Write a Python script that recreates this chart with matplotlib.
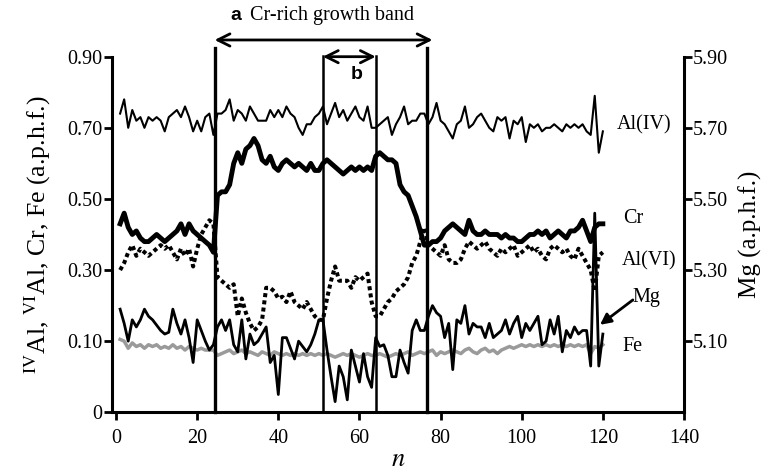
import matplotlib.pyplot as plt
import numpy as np

plt.rcParams['font.family'] = ['Liberation Serif', 'DejaVu Serif']
plt.rcParams['mathtext.fontset'] = 'stix'

# analysis number along the traverse
n = np.arange(1, 121)

al_iv = [0.74, 0.78, 0.70, 0.75, 0.72, 0.73, 0.70, 0.73, 0.72, 0.73,
         0.72, 0.69, 0.73, 0.74, 0.75, 0.73, 0.76, 0.73, 0.69, 0.72,
         0.69, 0.73, 0.74, 0.68, 0.74, 0.74, 0.75, 0.78, 0.72, 0.75,
         0.74, 0.72, 0.76, 0.74, 0.72, 0.72, 0.72, 0.75, 0.73, 0.75,
         0.73, 0.76, 0.74, 0.73, 0.70, 0.68, 0.71, 0.71, 0.73, 0.74,
         0.76, 0.71, 0.74, 0.77, 0.73, 0.75, 0.72, 0.74, 0.76, 0.73,
         0.72, 0.76, 0.70, 0.70, 0.71, 0.72, 0.73, 0.68, 0.71, 0.73,
         0.76, 0.71, 0.72, 0.72, 0.74, 0.74, 0.71, 0.73, 0.77, 0.72,
         0.71, 0.69, 0.67, 0.71, 0.72, 0.76, 0.70, 0.71, 0.73, 0.74,
         0.72, 0.70, 0.69, 0.73, 0.72, 0.73, 0.67, 0.72, 0.71, 0.73,
         0.66, 0.71, 0.70, 0.71, 0.69, 0.70, 0.70, 0.71, 0.70, 0.69,
         0.71, 0.70, 0.71, 0.70, 0.71, 0.69, 0.68, 0.79, 0.63, 0.69]

cr = [0.43, 0.46, 0.42, 0.40, 0.41, 0.39, 0.38, 0.38, 0.39, 0.40,
      0.39, 0.38, 0.39, 0.40, 0.41, 0.43, 0.40, 0.43, 0.41, 0.40,
      0.39, 0.38, 0.37, 0.35, 0.51, 0.52, 0.52, 0.54, 0.60, 0.63,
      0.60, 0.64, 0.65, 0.67, 0.65, 0.61, 0.60, 0.62, 0.59, 0.58,
      0.60, 0.61, 0.60, 0.59, 0.60, 0.59, 0.58, 0.60, 0.58, 0.58,
      0.60, 0.61, 0.60, 0.59, 0.58, 0.57, 0.58, 0.59, 0.58, 0.59,
      0.58, 0.59, 0.58, 0.62, 0.63, 0.62, 0.61, 0.61, 0.60, 0.54,
      0.52, 0.51, 0.48, 0.45, 0.41, 0.37, 0.37, 0.38, 0.38, 0.39,
      0.41, 0.42, 0.43, 0.42, 0.41, 0.40, 0.44, 0.41, 0.40, 0.40,
      0.41, 0.40, 0.40, 0.40, 0.39, 0.40, 0.39, 0.39, 0.38, 0.38,
      0.39, 0.40, 0.40, 0.41, 0.40, 0.41, 0.39, 0.40, 0.41, 0.40,
      0.39, 0.41, 0.41, 0.42, 0.44, 0.41, 0.38, 0.42, 0.43, 0.43]

al_vi = [0.30, 0.32, 0.35, 0.37, 0.34, 0.36, 0.35, 0.34, 0.35, 0.36,
         0.37, 0.36, 0.37, 0.35, 0.33, 0.36, 0.34, 0.36, 0.31, 0.36,
         0.40, 0.42, 0.44, 0.43, 0.28, 0.27, 0.26, 0.25, 0.26, 0.17,
         0.22, 0.18, 0.15, 0.13, 0.14, 0.16, 0.25, 0.25, 0.24, 0.22,
         0.225, 0.21, 0.24, 0.21, 0.20, 0.19, 0.21, 0.19, 0.17, 0.16,
         0.16, 0.22, 0.27, 0.31, 0.27, 0.27, 0.27, 0.25, 0.28, 0.27,
         0.28, 0.29, 0.21, 0.17, 0.17, 0.19, 0.21, 0.22, 0.24, 0.25,
         0.26, 0.28, 0.32, 0.34, 0.38, 0.42, 0.37, 0.36, 0.35, 0.34,
         0.37, 0.33, 0.32, 0.32, 0.33, 0.36, 0.38, 0.37, 0.36, 0.37,
         0.38, 0.36, 0.35, 0.34, 0.36, 0.35, 0.36, 0.37, 0.34, 0.35,
         0.36, 0.37, 0.35, 0.36, 0.34, 0.33, 0.36, 0.37, 0.36, 0.35,
         0.36, 0.34, 0.33, 0.36, 0.34, 0.32, 0.30, 0.24, 0.34, 0.35]

# Mg on the right axis
mg = [5.19, 5.15, 5.10, 5.16, 5.14, 5.16, 5.19, 5.17, 5.16, 5.145,
      5.13, 5.12, 5.125, 5.19, 5.15, 5.12, 5.16, 5.11, 5.04, 5.16,
      5.13, 5.10, 5.075, 5.09, 5.14, 5.16, 5.13, 5.16, 5.09, 5.07,
      5.16, 5.05, 5.12, 5.09, 5.10, 5.12, 5.14, 5.04, 5.06, 4.95,
      5.11, 5.11, 5.08, 5.05, 5.10, 5.085, 5.07, 5.09, 5.12, 5.16,
      5.16, 5.075, 5.00, 4.93, 5.03, 5.00, 4.935, 5.075, 5.03, 4.985,
      5.065, 5.00, 4.97, 5.11, 5.085, 5.09, 5.06, 5.00, 5.00, 5.075,
      5.04, 5.01, 5.13, 5.16, 5.13, 5.13, 5.17, 5.20, 5.18, 5.17,
      5.11, 5.15, 5.02, 5.16, 5.15, 5.20, 5.12, 5.15, 5.14, 5.14,
      5.11, 5.15, 5.11, 5.12, 5.13, 5.16, 5.12, 5.15, 5.17, 5.11,
      5.15, 5.13, 5.15, 5.17, 5.09, 5.10, 5.16, 5.12, 5.17, 5.07,
      5.13, 5.11, 5.14, 5.12, 5.13, 5.13, 5.03, 5.46, 5.03, 5.12]

fe = [0.105, 0.10, 0.08, 0.095, 0.085, 0.09, 0.08, 0.09, 0.085, 0.09,
      0.08, 0.085, 0.08, 0.09, 0.08, 0.085, 0.075, 0.085, 0.08, 0.075,
      0.08, 0.075, 0.075, 0.075, 0.06, 0.065, 0.07, 0.075, 0.065, 0.07,
      0.075, 0.065, 0.07, 0.065, 0.06, 0.07, 0.065, 0.06, 0.07, 0.065,
      0.06, 0.065, 0.06, 0.065, 0.06, 0.065, 0.06, 0.065, 0.06, 0.065,
      0.06, 0.065, 0.06, 0.055, 0.06, 0.065, 0.06, 0.065, 0.06, 0.055,
      0.06, 0.065, 0.06, 0.06, 0.065, 0.06, 0.055, 0.06, 0.065, 0.06,
      0.065, 0.07, 0.06, 0.065, 0.07, 0.065, 0.07, 0.075, 0.06, 0.07,
      0.065, 0.07, 0.075, 0.07, 0.065, 0.075, 0.08, 0.07, 0.065, 0.075,
      0.08, 0.07, 0.075, 0.065, 0.075, 0.08, 0.085, 0.08, 0.085, 0.09,
      0.085, 0.09, 0.085, 0.09, 0.085, 0.09, 0.085, 0.09, 0.085, 0.09,
      0.085, 0.09, 0.085, 0.09, 0.085, 0.09, 0.065, 0.085, 0.08, 0.09]

band_a = [24.3, 76.7]
band_b = [51, 64]

left_ticks = [-0.1, 0.1, 0.3, 0.5, 0.7, 0.9]
left_labels = ['0', '0.10', '0.30', '0.50', '0.70', '0.90']
right_ticks = [5.1, 5.3, 5.5, 5.7, 5.9]
right_labels = ['5.10', '5.30', '5.50', '5.70', '5.90']

fig = plt.figure(figsize=(7.65, 4.74), dpi=100)
ax = fig.add_axes([0.1464, 0.1302, 0.7477, 0.7502])
ax2 = ax.twinx()

ax.plot(n, fe, color='#9a9a9a', lw=2.5, zorder=2)
ax.plot(n, al_iv, color='k', lw=1.5, zorder=3)
ax.plot(n, al_vi, color='k', lw=2.9, ls=(0, (1, 0.8)), zorder=3)
ax.plot(n, cr, color='k', lw=3.5, zorder=4)
ax2.plot(n, mg, color='k', lw=2.0, zorder=3)

ax.set_xlim(-1, 140)
ax.set_ylim(-0.1, 0.9)
ax2.set_ylim(4.9, 5.9)

ax.set_xticks([0, 20, 40, 60, 80, 100, 120, 140])
ax.set_yticks(left_ticks)
ax.set_yticklabels(left_labels)
ax2.set_yticks(right_ticks)
ax2.set_yticklabels(right_labels)

for a in (ax, ax2):
    a.spines['top'].set_visible(False)
    for s in a.spines.values():
        s.set_linewidth(2.2)
    a.tick_params(direction='out', length=6, width=2, labelsize=14.5)
ax.spines['right'].set_visible(False)
ax2.spines['left'].set_visible(False)
ax2.spines['bottom'].set_visible(False)
ax.tick_params(axis='y', pad=1)
ax.tick_params(axis='x', pad=6)
ax2.tick_params(axis='y', pad=0)

ax.set_xlabel('$n$', fontsize=19, labelpad=1)
ax.set_ylabel(r'$^{\rm IV}$Al, $^{\rm VI}$Al, Cr, Fe (a.p.h.f.)', fontsize=18.5, labelpad=10)
ax2.set_ylabel('Mg (a.p.h.f.)', fontsize=18, labelpad=8)

# growth band markers
for x, lw, top in [(band_a[0], 2.4, 0.925), (band_a[1], 2.4, 0.925),
                   (band_b[0], 1.8, 0.902), (band_b[1], 1.8, 0.902)]:
    ax.plot([x, x], [-0.1, top], color='k', lw=lw, clip_on=False, zorder=5)

ax.annotate('', xy=(band_a[0], 0.947), xytext=(band_a[1] + 1.3, 0.947),
            arrowprops=dict(arrowstyle='<->', lw=2, color='k', shrinkA=0, shrinkB=0,
                            mutation_scale=22), annotation_clip=False)
ax.annotate('', xy=(band_b[0], 0.90), xytext=(band_b[1], 0.90),
            arrowprops=dict(arrowstyle='<->', lw=2, color='k', shrinkA=0, shrinkB=0,
                            mutation_scale=22), annotation_clip=False)

ax.text(28.1, 1.017, 'a', fontsize=14, fontweight='bold', family='Liberation Sans',
        ha='left', va='center', clip_on=False)
ax.text(33.0, 1.017, 'Cr-rich growth band', fontsize=14.5, ha='left', va='center',
        clip_on=False)
ax.text(59.4, 0.849, 'b', fontsize=14, fontweight='bold', family='Liberation Sans',
        ha='center', va='center')

# series labels
ax.text(123.5, 0.708, 'Al(IV)', fontsize=14.5, ha='left', va='center')
ax.text(125.0, 0.446, 'Cr', fontsize=14.5, ha='left', va='center')
ax.text(124.7, 0.325, 'Al(VI)', fontsize=14.5, ha='left', va='center')
ax.text(127.4, 0.224, 'Mg', fontsize=14.5, ha='left', va='center')
ax.text(124.8, 0.086, 'Fe', fontsize=14.5, ha='left', va='center')
ax.annotate('', xy=(119.3, 0.146), xytext=(127.4, 0.216),
            arrowprops=dict(arrowstyle='-|>', lw=2, color='k', shrinkA=0, shrinkB=0,
                            mutation_scale=16))

fig.savefig('out.png', dpi=100)
